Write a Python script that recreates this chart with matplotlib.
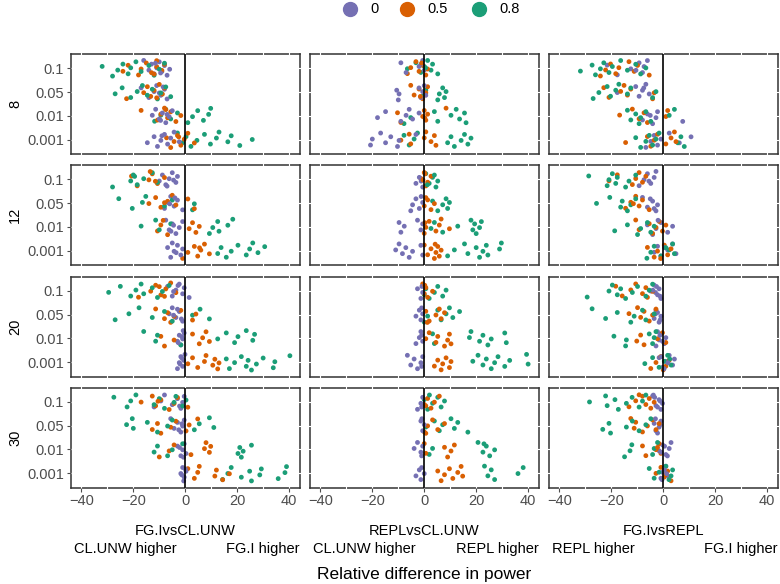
import numpy as np
import matplotlib
matplotlib.use('Agg')
import matplotlib.pyplot as plt

plt.rcParams['font.family'] = ['Liberation Sans', 'DejaVu Sans']

alpha_labels = ['0.1', '0.05', '0.01', '0.001']
n_labels = ['8', '12', '20', '30']
comparisons = ['FG.IvsCL.UNW', 'REPLvsCL.UNW', 'FG.IvsREPL']
side_labels = [('CL.UNW higher', 'FG.I higher'),
               ('CL.UNW higher', 'REPL higher'),
               ('REPL higher', 'FG.I higher')]
rho_labels = ['0', '0.5', '0.8']
colors = ['#7570B3', '#D95F02', '#1B9E77']

# relative difference in power; per panel: one row per alpha level,
# each row = [rho 0, rho 0.5, rho 0.8]
fgi_cl_8 = [
    [[-16, -14, -13, -12, -11, -10, -9, -8, -7, -6, -11.5, -9.5],
     [-24, -22, -18, -17, -15, -13, -11, -11, -9, -8, -12],
     [-32, -28, -26, -24, -22, -21, -19, -17, -14, -12, -10, -8]],
    [[-17, -14, -12, -11, -9.4, -8, -7, -10, -8.5],
     [-22.6, -16, -14.6, -13.3, -12, -10, -8.8, -8, -11],
     [-27, -24.3, -21, -18.5, -16.5, -14.6, -12.7, -10.7, -9.4, -7.5, -5.6]],
    [[-12.7, -11.4, -10, -8.8, -7.5, -6.2, -5, -9.5, -7],
     [-17, -10.7, -9.4, -8, -6.8, -5.6, -3.6, -1.7, -7.5],
     [-11.8, -9.4, -7.5, -5.6, -3, 1, 2.8, 4.8, 7, 9, 9.8]],
    [[-14.6, -12, -10.7, -9.4, -8, -6.8, -5.6, -4.3, -2.3, -9],
     [-7.2, -5.6, -4.3, -3, -1.7, -0.4, 1, 3.5, -2.5],
     [-3, -1, 0.3, 2.2, 4.5, 7.4, 9.7, 12, 13, 16.4, 17.7, 21, 25.8]],
]
fgi_cl_12 = [
    [[-10, -8.8, -7.5, -6.2, -5, -3.6, -3, -7, -4.5],
     [-20.7, -18.5, -14, -12.7, -10.7, -8, -13.5, -11.5],
     [-28, -21, -20, -18.5, -16, -12.7, -10.7, -19.5]],
    [[-8, -6.8, -5.6, -4.3, -3, -1, -6, -4],
     [-14, -11.4, -9.4, -6.8, -5, -3.6, 1, 3.5, -8],
     [-25.6, -20.4, -16.5, -15.2, -8, -5, 2.8, 3.5]],
    [[-7.5, -6.2, -5, -3.6, -2.3, -1, -5.5, -4.5],
     [-10.7, -9.4, -6.8, 1.5, 2.8, 4.1, 5.4, -8.5],
     [-17, -11.4, -10, -5.6, 9.3, 10.6, 12.5, 13, 16.4, 18.3]],
    [[-6.8, -5.6, -4.3, -3, -1.7, -1, -5, -3.5],
     [-1, 1, 3.5, 4.8, 6, 7.4, 9.3, 5.5],
     [12.5, 13.8, 15.8, 17.7, 20.3, 23.5, 24.8, 26, 28, 30.6]],
]
fgi_cl_20 = [
    [[-6.8, -5, -3.6, -2.3, -1, -0.4, 1.5, -4.5, -2.8],
     [-18, -13.3, -11.4, -9.4, -7.5, -5.6, -3.6, -10, -8],
     [-29.5, -25, -21, -19, -17, -16, -12.7, -10.7, -8.8, -6.2]],
    [[-6.2, -5, -3.6, -2.3, -1, -4.5, -3, -1.5],
     [-11.4, -8, -6.8, -5.6, -4.3, -1.7, 2.8, 4.1],
     [-27, -21.7, -17.8, -12.7, -8, -5, 2.8, 5.7, 9.3]],
    [[-3, -2.3, -1.7, -1, -0.4, -2.7, -1.3, -0.8],
     [-9.4, -8, -4.3, 2.8, 5.4, 6.7, 8, 9.3],
     [-16, -11.4, -10.7, -1.7, 12.5, 15.8, 19, 20.3, 23.5, 26, 26.7]],
    [[-3, -2.3, -1.7, -1, -0.6, -0.1, -2, -1.3],
     [1, 2.8, 4.8, 7.4, 8, 10.6, 11.4, 12.5, 13],
     [15.8, 17, 19, 21.6, 23.5, 24.2, 25.5, 27.4, 30, 33.9, 34.5, 40.3]],
]
fgi_cl_30 = [
    [[-12, -9.4, -8, -5, -3, -1.7, -1, -0.4, -2.2],
     [-17, -12.7, -11.4, -9.4, -6.2, -4.3, -3, 1, -10.5],
     [-27.5, -22.4, -21, -19, -12, -10, -8, -4.3, -3.6, -1, 0.3]],
    [[-5.6, -4.3, -3, -1.7, -1, -0.4, -2.5, -1.3],
     [-12.7, -10.7, -9.4, -5.6, -3.6, 0.3, 1.5, 4.8],
     [-22.6, -20.4, -20, -14.6, -10.7, -6.8, -5, 3.5, 5.4, 9.3, 11]],
    [[-3, -1.7, -1, -0.4, 0.3, -2.2, -0.7],
     [-10, -6.2, -4.3, 2.2, 7.4, 8, 9.3, 9.8],
     [-12, -10.7, -6.8, -5, -1, 20.3, 21, 21.6, 22.3, 25.5]],
    [[-1.7, -1, -0.4, 0.3, -0.6, -1.3, 0],
     [1, 3.5, 4.8, 5.4, 11.4, 12, 14.4, 17],
     [14.4, 16.4, 17.7, 21.6, 24.8, 25.5, 28.7, 29.3, 35.8, 38.4, 39]],
]

repl_cl_8 = [
    [[-9, -7, -2, -0.6, 0, -1.2],
     [-6.5, -5.2, -3.2, -2, -0.6, 0.6, 1.3, -1],
     [-6.5, -3.2, -1.3, 0, 1.3, 2.6, 3.2, 5.2, 0.5]],
    [[-10.6, -10, -9.7, -2, -1.3, -0.6, 0, 0.6],
     [-5.2, -3.9, -2, -0.6, 0.6, 1.3, -1.5],
     [-0.6, 0.6, 5.2, 5.8, 7.1, 7.8, 8.4]],
    [[-18, -14.9, -9, -7, -5.8, -4.5, -2],
     [-10.3, -9, -0.6, 0, 0.6, 1.3, 8.4, 0.2],
     [-7.8, -5.2, 3.9, 5.2, 10.3, 12.3, 13.6, 15.5, 16.1]],
    [[-20.7, -20, -16.8, -14.9, -12.9, -10.3, -9.7, -3.2],
     [-9, -5.8, -5.2, 0, 0.6, 2.6, 3.9, 4.5],
     [-7.8, -5.8, -3.9, -2.6, 9, 10.3, 11.6, 14.2, 15.5, 16.8, 18]],
]
repl_cl_12 = [
    [[-3.2, -1.9, -0.6, -1.2],
     [-1.3, 0, 1.3, 2.6, 0.6, -0.5, 0.3],
     [0.6, 1.9, 3.2, 4.5, 5.2, 3.9, 1.2]],
    [[-5.2, -4.5, -3.2, -1.9, -0.6, -1.2],
     [0, 1.3, 2.6, 3.9, 0.6],
     [3.2, 5.2, 7.1, 8.4, 9, 9.7]],
    [[-9.7, -9, -7.7, -2.6, -1.3, -0.6],
     [0, 0.6, 1.9, 4.5, 5.8, 6.5, 9.7, 0.3],
     [2.6, 3.9, 7.1, 12.9, 18, 18.7, 19.4, 20, 21.3, 22]],
    [[-11, -9.7, -8.4, -7.1, -5.8, -4.5, -1.3, -0.6],
     [0, 1.3, 2.6, 3.9, 4.5, 5.2, 5.8, 6.5, 4.2],
     [9, 11.6, 15.5, 16.8, 20, 21.3, 22.6, 23.9, 24.5, 29, 29.7]],
]
repl_cl_20 = [
    [[-2.6, -1.3, -0.6, -0.9],
     [-0.6, 0, 0.6, 1.3, 3.2, 0.2],
     [0, 0.6, 1.9, 3.9, 5.2, 7.1, 8.4]],
    [[-3.2, -1.9, -1.3, -0.6, -1],
     [0.6, 1.9, 4.5, 5.8, 6.5, 7.8, 1.2],
     [0, 1.3, 5.2, 6.5, 8.4, 9.7, 11, 13.6]],
    [[-3.2, -1.9, -1.3, -0.6, -1],
     [0.6, 1.9, 4.5, 5.2, 7.8, 9, 9.7, 10.3],
     [3.2, 3.9, 17.4, 18, 21.3, 22.6, 24.5, 25.8, 31, 31.6]],
    [[-6.5, -5.2, -3.9, -2.6, -1.3, -0.6, -1],
     [3.9, 5.2, 6.5, 7.1, 8.4, 9.7, 10.3],
     [18.7, 20.7, 22.6, 23.9, 25.8, 27.1, 28.4, 31, 32.9, 39.4, 40]],
]
repl_cl_30 = [
    [[-2.6, -1.3, -0.6, -1],
     [0, 1.3, 2.6, 3.9, 5.8, 0.6],
     [0, 1.3, 3.2, 5.2, 6.5, 7.8, 2]],
    [[-1.3, -0.6, 0, -0.9],
     [0, 1.3, 3.2, 5.2, 7.8, 0.6],
     [0.6, 3.9, 5.8, 7.1, 10.3, 11.6, 12.9, 16.8]],
    [[-3.9, -2.6, -1.3, -0.6, -1],
     [0, 0.6, 7.8, 9, 10.3, 11.6],
     [1.9, 3.2, 20.7, 22.6, 23.9, 25.2, 27.1, 23]],
    [[-3.2, -1.9, -1.3, 0, -1],
     [5.2, 6.5, 7.8, 9.7, 11, 12.9, 14.2, 14.8],
     [23.2, 24.5, 25.8, 27.1, 36.1, 38.1]],
]

fgi_repl_8 = [
    [[-21.6, -17.7, -12.5, -9.3, -8, -7.4, -6.1, -10.5],
     [-24.2, -22.2, -20.3, -18.3, -17.1, -13.2, -11.2, -9.9, -5.4],
     [-31.9, -27.4, -26.1, -24.2, -22.9, -20.9, -19.6, -16.4, -13.8, -10.6, -8.7, -6.7]],
    [[-17.7, -10.6, -9.3, -8, -6.7, -5.4, -7.5],
     [-22.9, -20.9, -16.4, -15.1, -13.8, -12.5, -4.1, -3.5],
     [-27, -24.8, -21.6, -20.3, -18.3, -17.1, -13.8, -12.5, -4.1, -2.8]],
    [[-8, -6.1, -4.1, -2.8, -2.2, 7.5, -5],
     [-16.8, -11.9, -9.3, -7.4, -6.1, 1, 1.7],
     [-13.8, -12.5, -10.6, -9.3, -8.7, -6.7, -4.8, 2.3, 4.3]],
    [[-6.7, -4.8, -3.5, -2.2, -0.9, 2.3, 6.2, 10.7],
     [-14.5, -6.1, -4.8, -3.5, -2.2, 1, 3, 4.3, 4.9],
     [-10.6, -8.7, -6.7, -5.4, -4.1, -2.8, -1.6, 5.6, 6.8, 8.1]],
]
fgi_repl_12 = [
    [[-9.3, -7.4, -6.1, -4.8, -3.5, -2.8, -5.5],
     [-20.9, -17.7, -11.9, -10.6, -9.3, -8, -6.7],
     [-28.7, -21.6, -20.9, -19.6, -18.3, -17.7, -14.5, -13.2, -10.6]],
    [[-8, -6.1, -4.1, -2.8, -2.2, -5, -3.5],
     [-14.5, -12.5, -10.6, -9.3, -8, -5.4, -11.5],
     [-25.7, -20.6, -16.4, -15.8, -13.8, -12.5, -10.6]],
    [[-6.1, -4.1, -2.8, -0.9, 1.7, 3.6, -2],
     [-10.6, -9.3, -5.4, -4.1, -2.8, -1.6, -0.3, 1],
     [-18.7, -13.8, -9.9, -8.7, -6.1, -4.8, -3.5]],
    [[-3.5, -2.2, -0.9, 1.7, 3.6, 4.9, 0.5],
     [-6.1, -3.5, -2.2, 0.4, 1.7, 3, -1],
     [-6.3, -4.8, -3.5, -0.9, 2.3, 3.6, 4.3, 1]],
]
fgi_repl_20 = [
    [[-4.8, -3.5, -2.2, -1.6, -0.9, -3, -2.6, -1.2, -4],
     [-18.3, -15.8, -12.5, -10.6, -8, -6.7, -6.1, -4.1],
     [-29.3, -20.9, -19.6, -17.7, -16.4, -14.5, -11.9, -9.9, -6.7, -5.4, -4.1]],
    [[-3.5, -2.2, -1.6, -0.9, -2.8, -1.2, -3],
     [-13.2, -9.9, -8.7, -7.4, -5.4, -4.1, -2.8],
     [-27.4, -22.2, -17.7, -12.5, -11.2, -8, -6.7, -3.5]],
    [[-2.8, -1.6, -0.9, 0.4, 1, -2.2, -0.3, -1.3],
     [-10.2, -8.7, -7.4, -2.2, -0.3, 1],
     [-19, -14.5, -14.2, -5.4, -4.1, -3.5, -2.8]],
    [[-1.6, -0.3, 1, 2.3, 3.6, 4.3, 0.3, 1.8, -0.8],
     [-4.8, -2.8, -0.9, 1, 2.3, 0],
     [-7.1, -4.1, -1.6, 0.4, 1.7, 3, 2.5]],
]
fgi_repl_30 = [
    [[-4.1, -2.8, -1.6, -0.9, -0.3, -3.3, -2.2, -1.2, -3.8],
     [-13.2, -10.6, -9.3, -6.7, -5.4, -4.8, -3.5, -8],
     [-28.4, -22.2, -21.6, -18.6, -17.3, -14.2, -12, -9.3, -8, -6.7]],
    [[-3.5, -2.2, -1.6, -0.9, -2.8, -1.2, -3],
     [-12.5, -11.2, -10.6, -8, -6.1, -4.1, -2.8, -1.6],
     [-23.3, -20.9, -20.3, -14.2, -11.9, -9.3, -6.7, -4.8]],
    [[-1.6, -0.3, 1, 2.3, 3, -0.8, 0.5, 1.6],
     [-8, -6.7, -2.8, -1.6, -0.9, -2.2],
     [-14.9, -12.8, -12.1, -4.1, -3.5, -2.2]],
    [[-0.9, -0.3, 1, 1.7, 0.4, -0.5, 1.3],
     [-2.8, -0.9, 0.4, 1.7, 3, 0.9],
     [-5.4, -3.5, -1.6, 1, 3, 3.6, 2.2]],
]

panels = [
    [fgi_cl_8, repl_cl_8, fgi_repl_8],
    [fgi_cl_12, repl_cl_12, fgi_repl_12],
    [fgi_cl_20, repl_cl_20, fgi_repl_20],
    [fgi_cl_30, repl_cl_30, fgi_repl_30],
]

W, H = 780, 584
fig = plt.figure(figsize=(W / 100, H / 100), dpi=100)

col_left = [71, 310, 549]
row_top = [54, 165, 276.5, 387.5]
pw, ph = 228.5, 100
tick_grey = '#4D4D4D'
border = '#333333'

for r in range(4):
    for c in range(3):
        ax = fig.add_axes([col_left[c] / W, (H - row_top[r] - ph) / H, pw / W, ph / H])
        ax.set_xlim(-44, 44)
        ax.set_ylim(4.6, 0.4)
        for s in ax.spines.values():
            s.set_color(border)
            s.set_linewidth(1.1)
            s.set_zorder(0.5)
        # white grid lines that break the border (ggplot look)
        for gx in range(-40, 41, 10):
            ax.axvline(gx, ymin=-0.01, ymax=1.01, color='white', lw=0.8,
                       clip_on=False, zorder=1)
        for gy in range(1, 5):
            ax.axhline(gy, xmin=-0.004, xmax=1.004, color='white', lw=0.8,
                       clip_on=False, zorder=1)

        data = panels[r][c]
        xs, ys, cs, order = [], [], [], []
        for a in range(4):
            for k in range(3):
                vals = data[a][k]
                n = len(vals)
                off = ((np.arange(n) * 0.618 + 0.23 * (a + 3 * k + 5 * c + 7 * r)) % 1 - 0.5) * 0.66
                xs += list(vals)
                ys += list(a + 1 + off)
                cs += [colors[k]] * n
                order += list(np.arange(n) * 3 + k)
        idx = np.argsort(order, kind='stable')
        ax.scatter(np.array(xs)[idx], np.array(ys)[idx], s=12,
                   c=np.array(cs)[idx], linewidths=0, zorder=2)
        ax.axvline(0, color='black', lw=1.2, zorder=3)

        ax.set_xticks([-40, -20, 0, 20, 40])
        ax.set_yticks([1, 2, 3, 4])
        ax.tick_params(colors=tick_grey, length=3, width=0.8,
                       labelsize=10.5, pad=2)
        if c == 0:
            ax.set_yticklabels(alpha_labels)
            fig.text(15 / W, (H - row_top[r] - ph / 2) / H, n_labels[r],
                     rotation=90, ha='center', va='center', fontsize=10.5)
        else:
            ax.tick_params(axis='y', length=0, labelleft=False)
        if r == 3:
            ax.set_xticklabels(['\u221240', '\u221220', '0', '20', '40'])
        else:
            ax.tick_params(axis='x', length=0, labelbottom=False)

for c in range(3):
    cx = (col_left[c] + pw / 2) / W
    fig.text(cx, 1 - 531 / H, comparisons[c], ha='center', va='center', fontsize=10.5)
    fig.text((col_left[c] + 3) / W, 1 - 549 / H, side_labels[c][0],
             ha='left', va='center', fontsize=10.5)
    fig.text((col_left[c] + pw) / W, 1 - 549 / H, side_labels[c][1],
             ha='right', va='center', fontsize=10.5)

fig.text(424 / W, 1 - 575 / H, 'Relative difference in power',
         ha='center', va='center', fontsize=12.5)

# legend
leg_x = [350, 407, 479]
for k in range(3):
    fig.lines.append(plt.Line2D([leg_x[k] / W], [1 - 9 / H], marker='o',
                                markersize=10, color=colors[k], linestyle='none',
                                transform=fig.transFigure))
    fig.text((leg_x[k] + 20) / W, 1 - 9 / H, rho_labels[k], ha='left',
             va='center', fontsize=10.5)

fig.savefig('out.png', dpi=100)
